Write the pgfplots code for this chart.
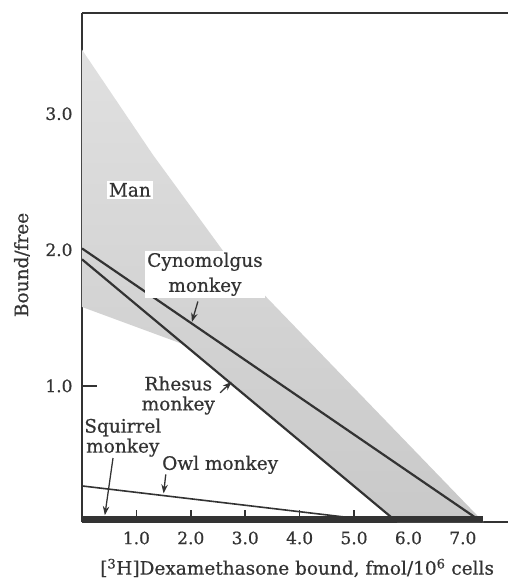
\documentclass[border=0pt]{standalone}
\usepackage{fontspec}
\setmainfont{DejaVu Serif}[FakeBold=0.6]
\usepackage{pgfplots}
\pgfplotsset{compat=1.18}
\usetikzlibrary{arrows.meta}
\definecolor{ink}{HTML}{333333}
\definecolor{shadetop}{HTML}{E0E0E0}
\definecolor{shadebot}{HTML}{C9C9C9}
\begin{document}
\begin{tikzpicture}[font=\fontsize{18.5}{20}\selectfont, text=ink,
  arr/.style={ink, line width=1.3pt, -{Stealth[length=9pt,width=6.5pt]}}]
\begin{axis}[name=ax, scale only axis, width=426pt, height=509pt,
  xmin=0, xmax=7.83, ymin=0, ymax=3.74,
  axis x line=box, axis y line=left,
  axis line style={-, ink, line width=2pt},
  xtick={1,2,3,4,5,6,7}, ytick={1,2,3},
  xtick pos=bottom, ytick pos=left,
  tick align=inside,
  xtick style={ink, line width=1.6pt, /pgfplots/major tick length=12pt},
  ytick style={ink, line width=1.6pt, /pgfplots/major tick length=15pt},
  xticklabels={1.0,2.0,3.0,4.0,5.0,6.0,7.0},
  yticklabels={1.0,2.0,3.0},
  tick label style={font=\fontsize{17}{20}\selectfont},
  yticklabel style={xshift=-6pt},
  xticklabel style={yshift=-6pt},
  xlabel={[\textsuperscript{3}H]Dexamethasone bound, fmol/10\textsuperscript{6} cells},
  ylabel={Bound/free},
  x label style={at={(axis description cs:0.505,0)}, anchor=center, yshift=-46pt},
  y label style={at={(axis description cs:-0.141,0.505)}, anchor=center},
  clip=false,
]
\addplot[draw=none, top color=shadetop, bottom color=shadebot] coordinates {(0,3.47) (1.3,2.7) (2.67,1.95) (7.38,0) (5.79,0) (1.9,1.30) (0,1.58)} -- cycle;
\addplot[ink, line width=2.2pt] coordinates {(0,2.01) (7.35,0)};
\addplot[ink, line width=2.2pt] coordinates {(0,1.93) (5.79,0)};
\addplot[ink, line width=1.6pt] coordinates {(0,0.265) (5.6,0)};
\addplot[ink, line width=6pt] coordinates {(0,0.025) (7.37,0.025)};
\node[fill=white, inner sep=2pt] at (axis cs:0.88,2.44) {Man};
\node[fill=white, align=center, inner sep=2pt] at (axis cs:2.26,1.82) {Cynomolgus\\[5pt]monkey};
\node[fill=white, align=center, inner sep=1pt] at (axis cs:1.77,0.93) {Rhesus\\monkey};
\node[align=center, inner sep=1pt] at (axis cs:0.75,0.62) {Squirrel\\monkey};
\node[inner sep=1pt] at (axis cs:2.54,0.42) {Owl monkey};
\draw[arr] (axis cs:2.13,1.62) -- (axis cs:2.02,1.47);
\draw[arr] (axis cs:2.54,0.95) -- (axis cs:2.75,1.03);
\draw[arr] (axis cs:0.57,0.47) -- (axis cs:0.42,0.05);
\draw[arr] (axis cs:1.54,0.35) -- (axis cs:1.50,0.21);
\end{axis}
\pgfresetboundingbox
\path[use as bounding box] ([xshift=-82pt,yshift=-59pt]ax.south west) rectangle ([yshift=13pt]ax.north east);
\end{tikzpicture}
\end{document}
